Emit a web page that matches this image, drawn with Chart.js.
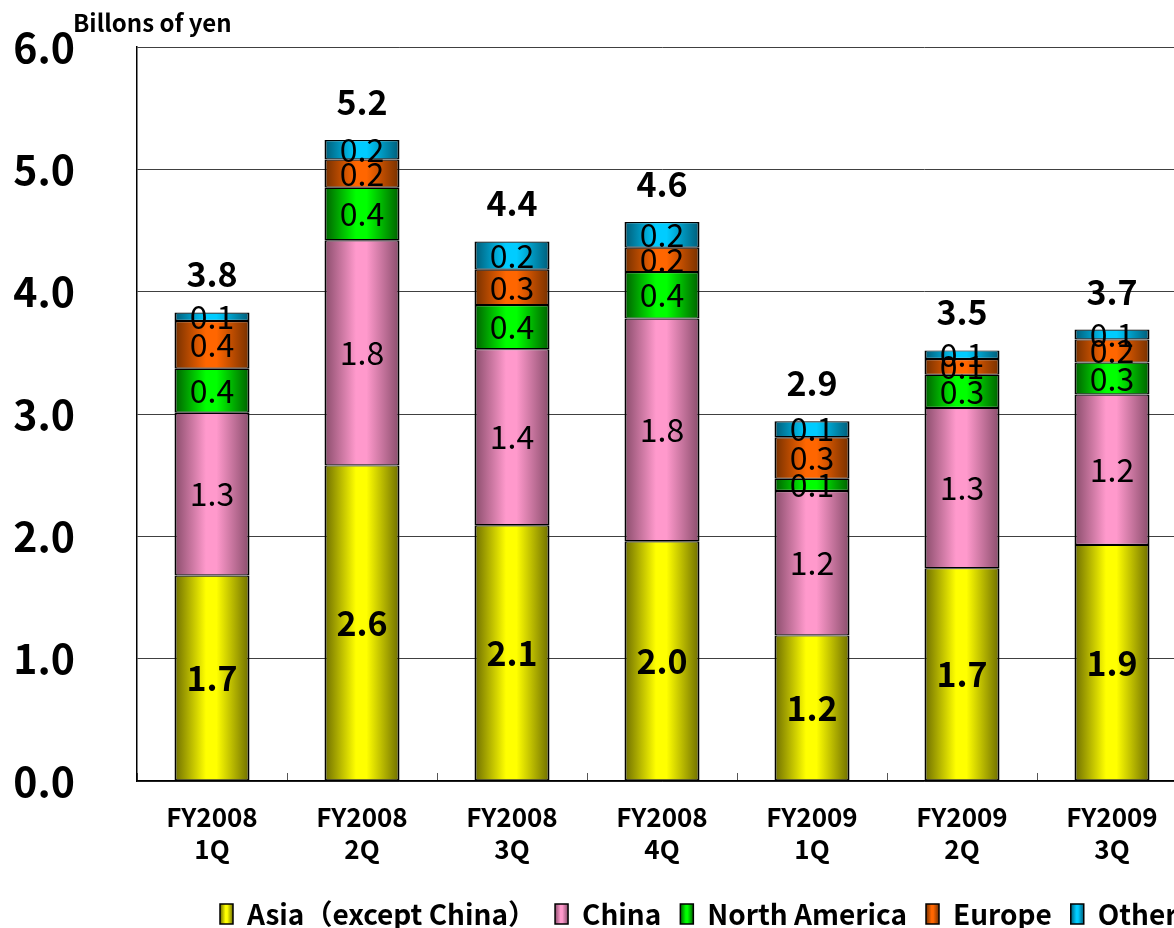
<!DOCTYPE html>
<html><head><meta charset="utf-8">
<script src="https://cdn.jsdelivr.net/npm/chart.js@4.4.1/dist/chart.umd.min.js"></script>
<style>
html,body{margin:0;padding:0;background:#fff;overflow:hidden;width:1174px;height:928px}
#wrap{position:absolute;left:0;top:0;width:1400px;height:928px}
</style>
</head><body><div id="wrap"><canvas id="c"></canvas></div>
<script>
const categories = [['FY2008','1Q'],['FY2008','2Q'],['FY2008','3Q'],['FY2008','4Q'],['FY2009','1Q'],['FY2009','2Q'],['FY2009','3Q']];
const seriesNames = ['Asia（except China）','China','North America','Europe','Others'];
const asia         = [1.68, 2.58, 2.09, 1.96, 1.19, 1.74, 1.93];
const china        = [1.33, 1.84, 1.44, 1.82, 1.18, 1.31, 1.23];
const northAmerica = [0.36, 0.43, 0.36, 0.38, 0.10, 0.27, 0.26];
const europe       = [0.39, 0.23, 0.29, 0.20, 0.34, 0.13, 0.19];
const others       = [0.07, 0.16, 0.23, 0.21, 0.13, 0.07, 0.08];
const yTicks = [0, 1, 2, 3, 4, 5, 6];
const unitLabel = 'Billons of yen';

const FONT = '"Noto Sans CJK JP", "Noto Sans", sans-serif';
const palette = [
  ['#6e6e00', '#ffff00'],
  ['#8a4d6c', '#ff99cc'],
  ['#006000', '#00ff00'],
  ['#753000', '#ff6600'],
  ['#005c78', '#00ccff']
];
function makeGrad(c, x0, w, dark, bright) {
  const g = c.createLinearGradient(x0, 0, x0 + w, 0);
  g.addColorStop(0, dark);
  g.addColorStop(0.42, bright);
  g.addColorStop(0.56, bright);
  g.addColorStop(1, dark);
  return g;
}
function grad(dark, bright) {
  return (ctx) => {
    const chart = ctx.chart;
    const xs = chart.scales && chart.scales.x;
    if (ctx.type !== 'data' || !xs || !chart.chartArea) return bright;
    const cx = xs.getPixelForValue(ctx.dataIndex);
    const w = xs.width / categories.length * 0.5;
    return makeGrad(chart.ctx, cx - w / 2, w, dark, bright);
  };
}
const seriesData = [asia, china, northAmerica, europe, others];
const datasets = seriesData.map((d, i) => ({
  label: seriesNames[i],
  data: d,
  backgroundColor: grad(palette[i][0], palette[i][1]),
  borderColor: '#000',
  borderWidth: { left: 2, right: 2, top: 1.2, bottom: 1.2 },
  borderSkipped: false,
  barPercentage: 0.5,
  categoryPercentage: 1.0,
  stack: 's'
}));

const LEGEND_X = 220, LEGEND_CY = 914, PLOT_BOTTOM = 781;
const LEG_FONT = 28, LEG_BOXW = 13, LEG_BOXH = 20, LEG_PAD = 19;

const labelPlugin = {
  id: 'labels',
  afterLayout(chart) {
    const lg = chart.legend;
    if (!lg) return;
    const w = lg.width;
    const h = lg.height;
    lg.left = LEGEND_X - LEG_PAD;
    lg.right = lg.left + w;
    lg.top = LEGEND_CY - LEG_FONT / 2 - LEG_PAD;
    lg.bottom = lg.top + h;
  },
  afterDatasetsDraw(chart) {
    const ctx = chart.ctx;
    ctx.save();
    ctx.fillStyle = '#000';
    ctx.textAlign = 'center';
    ctx.textBaseline = 'middle';
    chart.data.datasets.forEach((ds, di) => {
      const meta = chart.getDatasetMeta(di);
      meta.data.forEach((bar, i) => {
        const v = ds.data[i];
        const y = (bar.y + bar.base) / 2;
        ctx.font = (di === 0 ? 'bold 34px ' : '32px ') + FONT;
        ctx.fillText(v.toFixed(1), bar.x, y);
      });
    });
    const ys = chart.scales.y, xs = chart.scales.x;
    ctx.font = 'bold 34px ' + FONT;
    categories.forEach((c, i) => {
      const total = seriesData.reduce((s, arr) => s + arr[i], 0);
      ctx.fillText(total.toFixed(1), xs.getPixelForValue(i), ys.getPixelForValue(total) - 38);
    });
    ctx.textAlign = 'left';
    ctx.font = 'bold 24px ' + FONT;
    ctx.fillText(unitLabel, 73, 23);
    ctx.restore();
  }
};

new Chart(document.getElementById('c'), {
  type: 'bar',
  data: { labels: categories, datasets },
  options: {
    responsive: true,
    maintainAspectRatio: false,
    animation: false,
    layout: { padding: { top: 47, left: 0, right: 0, bottom: 0 } },
    plugins: {
      tooltip: { enabled: false },
      title: { display: false },
      legend: {
        position: 'bottom',
        align: 'start',
        labels: {
          color: '#000',
          font: { family: FONT, size: LEG_FONT, weight: 'bold' },
          boxWidth: LEG_BOXW,
          boxHeight: LEG_BOXH,
          padding: LEG_PAD,
          generateLabels(chart) {
            const c = chart.ctx;
            c.save();
            c.font = 'bold ' + LEG_FONT + 'px ' + FONT;
            let x = LEGEND_X;
            const items = chart.data.datasets.map((ds, i) => {
              const item = {
                text: ds.label,
                fillStyle: makeGrad(c, x, LEG_BOXW, palette[i][0], palette[i][1]),
                strokeStyle: '#000',
                lineWidth: 1.5,
                fontColor: '#000',
                hidden: false,
                datasetIndex: i
              };
              x += LEG_BOXW + LEG_FONT / 2 + c.measureText(ds.label).width + LEG_PAD;
              return item;
            });
            c.restore();
            return items;
          }
        }
      }
    },
    scales: {
      x: {
        stacked: true,
        grid: { display: true, offset: true, drawOnChartArea: false, drawTicks: true, tickLength: -8, color: '#555', tickColor: '#555' },
        border: { display: true, color: '#000', width: 1.5 },
        ticks: { color: '#000', font: { family: FONT, size: 26, weight: 'bold', lineHeight: 1.23 }, padding: 28, maxRotation: 0, autoSkip: false },
        afterFit(s) { s.height = 928 - PLOT_BOTTOM - (s.chart.legend ? s.chart.legend.height : 0); }
      },
      y: {
        stacked: true,
        min: 0, max: 6,
        afterBuildTicks(s) { s.ticks = yTicks.map(v => ({ value: v })); },
        grid: { color: '#404040', lineWidth: 1, drawTicks: false },
        border: { display: true, color: '#000', width: 1.5 },
        ticks: { color: '#000', font: { family: FONT, size: 41, weight: 'bold' }, padding: 62, callback: v => Number(v).toFixed(1) },
        afterFit(s) { s.width = 137; s.paddingTop = 0; s.paddingBottom = 0; }
      },
      y2: {
        position: 'right',
        display: true,
        grid: { display: false, drawTicks: false },
        border: { display: false },
        ticks: { display: false },
        afterFit(s) { s.width = 213; s.paddingTop = 0; s.paddingBottom = 0; }
      }
    }
  },
  plugins: [labelPlugin]
});
</script>
</body></html>
